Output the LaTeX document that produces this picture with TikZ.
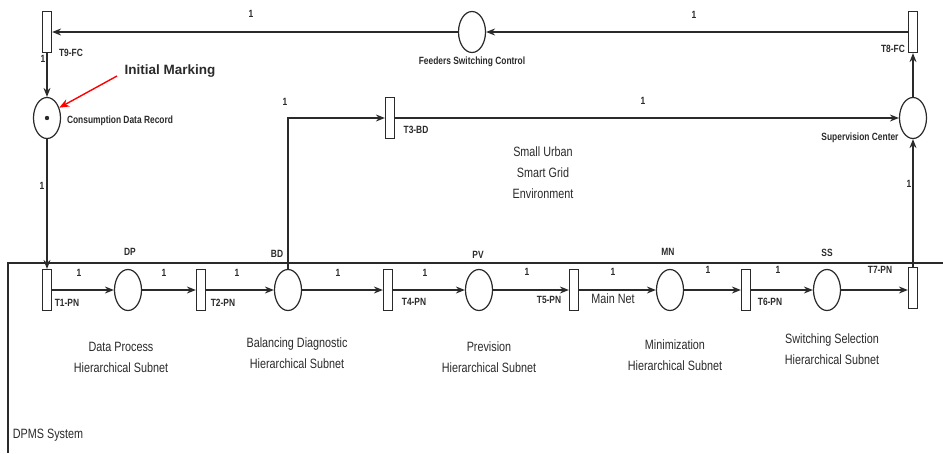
\documentclass[tikz,border=0pt]{standalone}
\usepackage{fontspec}
\setmainfont{Liberation Sans}
\newfontfamily\nar[FakeStretch=0.8]{Liberation Sans}
\usetikzlibrary{shapes.geometric,arrows.meta}
\definecolor{ln}{HTML}{2A2A2A}
\begin{document}
\begin{tikzpicture}[x=1pt,y=-1pt,
  place/.style={ellipse, draw=ln, line width=1.2pt, minimum width=27pt, minimum height=41pt, inner sep=0pt},
  trans/.style={rectangle, draw=ln, line width=1.2pt, minimum width=9pt, minimum height=41pt, inner sep=0pt},
  arr/.style={draw=ln, line width=1.2pt, -{Stealth[length=9pt,width=7pt]}},
  lbl/.style={font=\nar\bfseries\fontsize{10.5}{12}\selectfont, inner sep=0pt, text=ln},
  plbl/.style={font=\nar\bfseries\fontsize{10.5}{12}\selectfont, inner sep=0pt, text=ln},
  big/.style={font=\nar\fontsize{13.5}{21}\selectfont, align=center, inner sep=0pt, text=ln}]
\useasboundingbox (0,0) rectangle (943,453);
% system frame
\coordinate (sysR) at (943,263);
\coordinate (sysC) at (8,263);
\coordinate (sysB) at (8,453);
\draw[ln, line width=1.2pt] (sysR) -- (sysC) -- (sysB);
% top part
\node[trans] (t9) at (47,32) {};
\node[trans] (t8) at (913,32) {};
\node[place] (fsc) at (472,32) {};
\node[place] (cdr) at (47,118) {};
\node[place] (sc) at (913,118) {};
\node[trans] (t3) at (390,118) {};
\fill[ln] (cdr.center) circle (2.2pt);
% bottom row
\node[trans] (t1) at (47,290) {};
\node[place] (dp) at (128,290) {};
\node[trans] (t2) at (201,290) {};
\node[place] (bd) at (288,290) {};
\node[trans] (t4) at (388,290) {};
\node[place] (pv) at (479,290) {};
\node[trans] (t5) at (574,290) {};
\node[place] (mn) at (670,290) {};
\node[trans] (t6) at (746,290) {};
\node[place] (ss) at (827,290) {};
\node[trans] (t7) at (913,288) {};
% connectors
\draw[arr] (t8) -- (fsc);
\draw[arr] (fsc) -- (t9);
\draw[arr] (t9) -- (cdr);
\draw[arr] (cdr) -- (t1);
\draw[arr] (t1) -- (dp);
\draw[arr] (dp) -- (t2);
\draw[arr] (t2) -- (bd);
\draw[arr] (bd) -- (t4);
\draw[arr] (t4) -- (pv);
\draw[arr] (pv) -- (t5);
\draw[arr] (t5) -- (mn);
\draw[arr] (mn) -- (t6);
\draw[arr] (t6) -- (ss);
\draw[arr] (ss) -- (t7.west |- ss);
\draw[arr] (t7) -- (sc);
\draw[arr] (sc) -- (t8);
\draw[arr] (bd.north) |- (t3);
\draw[arr] (t3) -- (sc);
% initial marking
\node[font=\bfseries\fontsize{13.5}{16}\selectfont, inner sep=0pt, text=ln] (im) at (170,71) {Initial Marking};
\coordinate (imtail) at (117,76);
\draw[red, line width=1.4pt, -{Stealth[length=10pt,width=8pt]}] (imtail) -- (cdr.40);
% arc weights
\node[lbl] (w1) at (694,15) {1};
\node[lbl] (w2) at (251,14) {1};
\node[lbl] (w3) at (43,59) {1};
\node[lbl] (w4) at (42,186) {1};
\node[lbl] (w5) at (285,102) {1};
\node[lbl] (w6) at (643,101) {1};
\node[lbl] (w7) at (909,184) {1};
\node[lbl] (w8) at (79,273) {1};
\node[lbl] (w9) at (164,273) {1};
\node[lbl] (w10) at (237,273) {1};
\node[lbl] (w11) at (338,273) {1};
\node[lbl] (w12) at (425,273) {1};
\node[lbl] (w13) at (527,272) {1};
\node[lbl] (w14) at (613,272) {1};
\node[lbl] (w15) at (708,270) {1};
\node[lbl] (w16) at (778,270) {1};
% transition labels
\node[lbl] (lt9) at (71,53) {T9-FC};
\node[lbl] (lt8) at (893,49) {T8-FC};
\node[lbl] (lt3) at (416,130) {T3-BD};
\node[lbl] (lt1) at (67,303) {T1-PN};
\node[lbl] (lt2) at (223,303) {T2-PN};
\node[lbl] (lt4) at (414,302) {T4-PN};
\node[lbl] (lt5) at (549,300) {T5-PN};
\node[lbl] (lt6) at (770,302) {T6-PN};
\node[lbl] (lt7) at (880,270) {T7-PN};
% place labels
\node[plbl] (lfsc) at (472,62) {Feeders Switching Control};
\node[plbl] (lcdr) at (120,121) {Consumption Data Record};
\node[plbl] (lsc) at (860,138) {Supervision Center};
\node[lbl] (ldp) at (130,252) {DP};
\node[lbl] (lbd) at (277,254) {BD};
\node[lbl] (lpv) at (478,255) {PV};
\node[lbl] (lmn) at (668,252) {MN};
\node[lbl] (lss) at (827,253) {SS};
% texts
\node[big] (mainnet) at (613,299) {Main Net};
\node[big] (env) at (543,173) {Small Urban\\Smart Grid\\Environment};
\node[big] (sub1) at (121,357) {Data Process\\Hierarchical Subnet};
\node[big] (sub2) at (297,353) {Balancing Diagnostic\\Hierarchical Subnet};
\node[big] (sub3) at (489,357) {Prevision\\Hierarchical Subnet};
\node[big] (sub4) at (675,355) {Minimization\\Hierarchical Subnet};
\node[big] (sub5) at (832,349) {Switching Selection\\Hierarchical Subnet};
\node[big] (dpms) at (48,435) {DPMS System};
\end{tikzpicture}
\end{document}
